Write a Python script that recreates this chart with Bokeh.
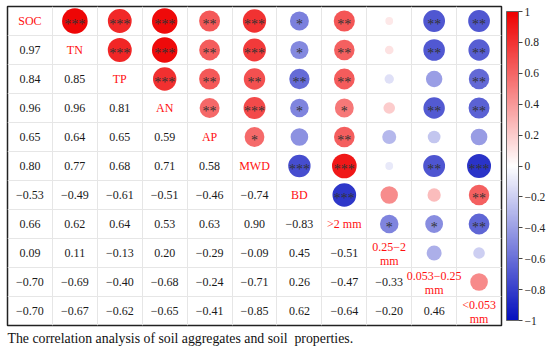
import numpy as np
from bokeh.plotting import figure
from bokeh.models import (ColumnDataSource, LinearColorMapper, ColorBar, FixedTicker,
                          CustomJSTickFormatter, Title, Range1d)
from bokeh.transform import transform
from bokeh.core.properties import value
from bokeh.embed import file_html
from bokeh.resources import INLINE

labels = ["SOC", "TN", "TP", "AN", "AP", "MWD", "BD", ">2 mm",
          "0.25\u22122\nmm", "0.053\u22120.25\nmm", "<0.053\nmm"]

# lower-triangle correlation coefficients (row i, columns 0..i-1)
r_rows = [
    [],
    [0.97],
    [0.84, 0.85],
    [0.96, 0.96, 0.81],
    [0.65, 0.64, 0.65, 0.59],
    [0.80, 0.77, 0.68, 0.71, 0.58],
    [-0.53, -0.49, -0.61, -0.51, -0.46, -0.74],
    [0.66, 0.62, 0.64, 0.53, 0.63, 0.90, -0.83],
    [0.09, 0.11, -0.13, 0.20, -0.29, -0.09, 0.45, -0.51],
    [-0.70, -0.69, -0.40, -0.68, -0.24, -0.71, 0.26, -0.47, -0.33],
    [-0.70, -0.67, -0.62, -0.65, -0.41, -0.85, 0.62, -0.64, -0.20, 0.46],
]

# significance marks for the upper triangle (row i, columns i+1..n-1)
stars = [
    ["***", "***", "***", "**", "***", "*", "**", "", "**", "**"],
    ["***", "***", "**", "***", "*", "**", "", "**", "**"],
    ["***", "**", "**", "**", "**", "", "", "**"],
    ["**", "***", "*", "*", "", "**", "**"],
    ["*", "", "**", "", "", ""],
    ["***", "***", "", "**", "***"],
    ["***", "", "", "**"],
    ["*", "*", "**"],
    ["", ""],
    [""],
    [],
]

cbar_ticks = [-1, -0.8, -0.6, -0.4, -0.2, 0, 0.2, 0.4, 0.6, 0.8, 1]
caption = "The correlation analysis of soil aggregates and soil\u00a0 properties."

n = len(labels)
FONT = "Liberation Serif"

def fmt(v):
    s = "%.2f" % abs(v)
    return ("\u2212" + s) if v < 0 else s

# lower triangle numbers
lx, ly, lt = [], [], []
for i, row in enumerate(r_rows):
    for j, v in enumerate(row):
        lx.append(j + 0.5); ly.append(i + 0.5); lt.append(fmt(v))

# upper triangle circles
ux, uy, ur, us, ust = [], [], [], [], []
for i in range(n):
    for k, s in enumerate(stars[i]):
        j = i + 1 + k
        v = r_rows[j][i]
        ux.append(j + 0.5); uy.append(i + 0.5); ur.append(v)
        us.append(26 * np.sqrt(abs(v))); ust.append(s)

# diagonal labels, split into single / two-line
d1x, d1y, d1t = [], [], []
d2x, d2y, d2a, d2b = [], [], [], []
for i, lab in enumerate(labels):
    parts = lab.split("\n")
    if len(parts) == 1:
        d1x.append(i + 0.5); d1y.append(i + 0.5); d1t.append(lab)
    else:
        d2x.append(i + 0.5); d2y.append(i + 0.5); d2a.append(parts[0]); d2b.append(parts[1])

# palette blue - white - red
def lerp(c1, c2, t):
    return "#%02x%02x%02x" % tuple(int(round(a + (b - a) * t)) for a, b in zip(c1, c2))

blue = (5, 15, 190); white = (255, 255, 255); red = (238, 0, 0)
palette = []
for t in np.linspace(-1, 1, 256):
    palette.append(lerp(white, blue, -t) if t < 0 else lerp(white, red, t))
mapper = LinearColorMapper(palette=palette, low=-1, high=1)

p = figure(frame_width=494, frame_height=319, x_range=Range1d(0, n), y_range=Range1d(n, 0),
           output_backend="svg", toolbar_location=None,
           min_border_left=7, min_border_top=6, min_border_right=0, min_border_bottom=0)
p.axis.visible = False
p.xgrid.ticker = FixedTicker(ticks=list(range(n + 1)))
p.ygrid.ticker = FixedTicker(ticks=list(range(n + 1)))
p.grid.grid_line_color = "#e6e6e6"
p.grid.grid_line_width = 1
p.outline_line_color = "#222222"
p.outline_line_width = 1.5

src_u = ColumnDataSource(dict(x=ux, y=uy, r=ur, size=us, st=ust))
p.scatter("x", "y", size="size", source=src_u, fill_color=transform("r", mapper),
          line_color=None)
p.text("x", "y", text="st", source=src_u, text_font=value(FONT),
       text_font_size="14px", text_color="#333333", text_align="center",
       text_baseline="middle", y_offset=3)

src_l = ColumnDataSource(dict(x=lx, y=ly, t=lt))
p.text("x", "y", text="t", source=src_l, text_font=value(FONT),
       text_font_size="12px", text_color="#1a1a1a", text_align="center",
       text_baseline="middle")

red_txt = "#ff1010"
src_d1 = ColumnDataSource(dict(x=d1x, y=d1y, t=d1t))
p.text("x", "y", text="t", source=src_d1, text_font=value(FONT),
       text_font_size="12px", text_color=red_txt, text_align="center",
       text_baseline="middle")
src_d2 = ColumnDataSource(dict(x=d2x, y=d2y, a=d2a, b=d2b))
p.text("x", "y", text="a", source=src_d2, text_font=value(FONT),
       text_font_size="12px", text_color=red_txt, text_align="center",
       text_baseline="middle", y_offset=-6)
p.text("x", "y", text="b", source=src_d2, text_font=value(FONT),
       text_font_size="12px", text_color=red_txt, text_align="center",
       text_baseline="middle", y_offset=8)

cb = ColorBar(color_mapper=mapper, ticker=FixedTicker(ticks=cbar_ticks),
              formatter=CustomJSTickFormatter(code="""
                  if (tick == 0) return "0";
                  const a = Math.abs(tick).toString();
                  return tick < 0 ? "\\u2212" + a : a;"""),
              width=12, padding=5, margin=2,
              major_label_text_font=FONT, major_label_text_font_size="11.5px",
              major_label_text_color="#222222",
              major_tick_in=0, major_tick_out=4, major_tick_line_color="#444444",
              bar_line_color="#666666", label_standoff=2,
              background_fill_alpha=0, border_line_color=None)
p.add_layout(cb, "right")

p.add_layout(Title(text=caption, text_font=FONT, text_font_size="13.8px",
                   text_font_style="normal", align="left", offset=0, standoff=6,
                   text_color="#111111"), "below")

open("out.html", "w").write(file_html(p, INLINE))
